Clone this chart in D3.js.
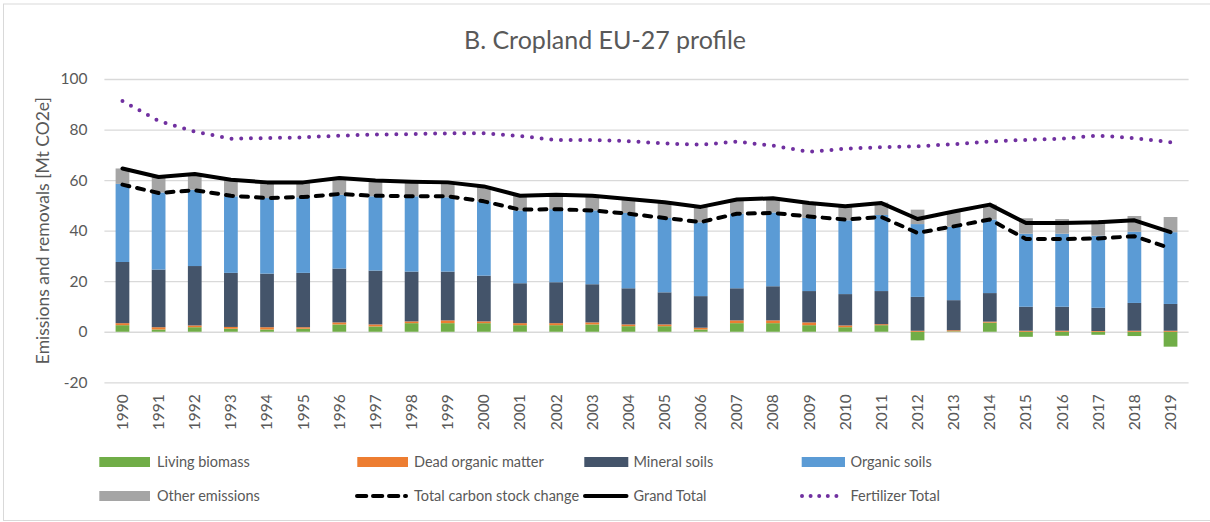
<!DOCTYPE html>
<html>
<head>
<meta charset="utf-8">
<script src="https://cdn.jsdelivr.net/npm/d3@7"></script>
<style>
  html, body { margin: 0; padding: 0; background: #fff; }
  svg { display: block; font-family: Lato, "Liberation Sans", sans-serif; }
</style>
</head>
<body>
<svg id="chart" width="1210" height="522"></svg>
<script>
// ---- data ----
const years = ["1990","1991","1992","1993","1994","1995","1996","1997","1998","1999",
               "2000","2001","2002","2003","2004","2005","2006","2007","2008","2009",
               "2010","2011","2012","2013","2014","2015","2016","2017","2018","2019"];
const livingBiomass = [2.6,0.9,1.8,1.2,0.9,1.2,2.9,2.1,3.4,3.4,
                       3.4,2.6,2.6,2.9,2.2,2.2,0.9,3.4,3.4,2.6,
                       1.8,2.6,-3.4,0.2,3.6,-2.0,-1.6,-1.2,-1.7,-5.9];
const deadOrganicMatter = [0.8,0.9,0.7,0.7,0.9,0.6,0.8,0.8,0.7,1.1,
                           0.7,0.8,0.8,0.8,0.7,0.7,0.7,1.1,1.1,1.1,
                           0.7,0.4,0.4,0.4,0.4,0.4,0.4,0.3,0.4,0.4];
const mineralSoils = [24.2,22.8,23.5,21.4,21.2,21.5,21.3,21.3,19.7,19.3,
                      18.1,15.8,16.2,15.1,14.3,12.7,12.5,12.7,13.5,12.4,
                      12.4,13.1,13.4,11.9,11.3,9.5,9.5,9.2,11.0,10.6];
const organicSoils = [30.9,30.5,30.2,30.3,29.9,29.9,29.2,29.4,29.8,29.4,
                      29.4,28.8,28.9,29.2,29.8,29.4,29.2,29.5,29.2,28.9,
                      29.2,30.1,28.8,29.0,29.1,28.9,28.9,28.5,28.2,28.4];
const otherEmissions = [6.1,6.1,6.2,6.5,6.2,5.9,6.6,6.2,5.7,5.9,
                        5.9,5.8,5.7,5.8,5.5,6.2,6.1,5.6,5.6,5.9,
                        5.6,4.9,5.7,6.0,5.9,6.1,5.8,6.1,6.2,6.0];
const totalCarbonStockChange = [58.2,54.9,56.0,53.8,52.9,53.3,54.5,53.8,53.6,53.6,
                                51.6,48.3,48.5,48.0,46.7,45.0,43.4,46.7,47.0,45.6,
                                44.4,45.4,39.1,41.7,44.4,36.7,36.7,36.9,37.8,33.0];
const grandTotal = [64.6,61.2,62.4,60.1,59.1,59.1,60.8,59.8,59.3,59.1,
                    57.5,53.8,54.2,53.8,52.5,51.2,49.4,52.3,52.8,50.9,
                    49.7,50.9,44.6,47.6,50.3,43.0,43.0,43.3,44.1,39.4];
const fertilizerTotal = [91.3,83.4,79.2,76.4,76.6,76.9,77.6,78.0,78.2,78.5,
                         78.5,77.4,75.9,75.9,75.4,74.5,74.0,75.2,73.6,71.2,
                         72.4,73.0,73.4,74.2,75.3,75.9,76.4,77.6,76.6,75.0];
const yTicks = [-20, 0, 20, 40, 60, 80, 100];

const title = "B. Cropland EU-27 profile";
const yTitle = "Emissions and removals [Mt CO2e]";

const barSeries = [
  {name: "Living biomass", values: livingBiomass, color: "#70ad47"},
  {name: "Dead organic matter", values: deadOrganicMatter, color: "#ed7d31"},
  {name: "Mineral soils", values: mineralSoils, color: "#44546a"},
  {name: "Organic soils", values: organicSoils, color: "#5b9bd5"},
  {name: "Other emissions", values: otherEmissions, color: "#a5a5a5"}
];
const lineSeries = [
  {name: "Total carbon stock change", values: totalCarbonStockChange, color: "#000", width: 4, dash: "7,8", cap: "round"},
  {name: "Grand Total", values: grandTotal, color: "#000", width: 4, dash: null, cap: "round"},
  {name: "Fertilizer Total", values: fertilizerTotal, color: "#7030a0", width: 4, dash: "0,9.7", cap: "round"}
];

// ---- layout ----
const svg = d3.select("#chart");
const plot = {left: 104.4, right: 1188.6, top: 79, bottom: 382.3};
const textColor = "#595959";

svg.append("rect").attr("x", 3.5).attr("y", 4).attr("width", 1215).attr("height", 516.5)
  .attr("fill", "#fff").attr("stroke", "#d9d9d9").attr("stroke-width", 1);

const x = d3.scaleBand().domain(years).range([plot.left, plot.right])
  .paddingInner(0.62).paddingOuter(0.31);
const y = d3.scaleLinear().domain([-20, 100]).range([plot.bottom, plot.top]);

// gridlines
const yAxis = d3.axisLeft(y).tickValues(yTicks).tickFormat(d => String(d))
  .tickSize(-(plot.right - plot.left)).tickPadding(17);
const gy = svg.append("g").attr("transform", `translate(${plot.left},0)`).call(yAxis);
gy.select(".domain").remove();
gy.selectAll(".tick line").attr("stroke", "#d9d9d9").attr("stroke-width", 1.3);
gy.selectAll(".tick text").attr("fill", textColor).attr("font-size", "15.5px")
  .attr("font-family", "Lato, 'Liberation Sans', sans-serif");

// stacked bars (positive above zero, negative below)
const n = years.length;
const posBase = new Array(n).fill(0), negBase = new Array(n).fill(0);
barSeries.forEach(s => {
  const rects = s.values.map((v, i) => {
    let y0, y1;
    if (v >= 0) { y0 = posBase[i]; y1 = y0 + v; posBase[i] = y1; }
    else { y0 = negBase[i]; y1 = y0 + v; negBase[i] = y1; }
    return {year: years[i], y0, y1};
  });
  svg.append("g").selectAll("rect").data(rects).join("rect")
    .attr("x", d => x(d.year))
    .attr("width", x.bandwidth())
    .attr("y", d => y(Math.max(d.y0, d.y1)))
    .attr("height", d => Math.abs(y(d.y0) - y(d.y1)))
    .attr("fill", s.color);
});

// lines
const cx = yr => x(yr) + x.bandwidth() / 2;
lineSeries.forEach(s => {
  const line = d3.line().x((d, i) => cx(years[i])).y(d => y(d)).curve(d3.curveLinear);
  svg.append("path").datum(s.values)
    .attr("d", line)
    .attr("fill", "none")
    .attr("stroke", s.color)
    .attr("stroke-width", s.width)
    .attr("stroke-linecap", s.cap)
    .attr("stroke-linejoin", "round")
    .attr("stroke-dasharray", s.dash);
});

// x axis labels
const xAxis = d3.axisBottom(x).tickSize(0).tickPadding(0);
const gx = svg.append("g").attr("transform", `translate(0,${plot.bottom})`).call(xAxis);
gx.select(".domain").remove();
gx.selectAll(".tick text")
  .attr("fill", textColor).attr("font-size", "15.5px")
  .attr("font-family", "Lato, 'Liberation Sans', sans-serif")
  .attr("text-anchor", "end")
  .attr("dy", "0.35em")
  .attr("transform", "translate(0,12) rotate(-90)")
  .attr("x", 0).attr("y", 0);

// title
svg.append("text").attr("x", 605).attr("y", 48.5).attr("text-anchor", "middle")
  .attr("fill", textColor).attr("font-size", "25px").text(title);

// y title
svg.append("text").attr("transform", `translate(49,${(plot.top + plot.bottom) / 2}) rotate(-90)`)
  .attr("text-anchor", "middle").attr("fill", textColor).attr("font-size", "17.5px").text(yTitle);

// legend
const legendItems = [
  {s: barSeries[0], type: "rect", x0: 99.3, x1: 150, tx: 157, cy: 462},
  {s: barSeries[1], type: "rect", x0: 357.3, x1: 408, tx: 414, cy: 462},
  {s: barSeries[2], type: "rect", x0: 584.3, x1: 628.3, tx: 633.5, cy: 462},
  {s: barSeries[3], type: "rect", x0: 801.7, x1: 845, tx: 850.5, cy: 462},
  {s: barSeries[4], type: "rect", x0: 99.3, x1: 150, tx: 157, cy: 496},
  {s: lineSeries[0], type: "line", x0: 357, x1: 406, tx: 414, cy: 496, dash: "9.3,6.7"},
  {s: lineSeries[1], type: "line", x0: 585, x1: 626.5, tx: 633.5, cy: 496, dash: null},
  {s: lineSeries[2], type: "line", x0: 802, x1: 845, tx: 850.5, cy: 496, dash: "0,8.6"}
];
const lg = svg.append("g");
legendItems.forEach(it => {
  if (it.type === "rect") {
    lg.append("rect").attr("x", it.x0).attr("y", it.cy - 5).attr("width", it.x1 - it.x0)
      .attr("height", 10).attr("fill", it.s.color);
  } else {
    lg.append("line").attr("x1", it.x0).attr("x2", it.x1).attr("y1", it.cy).attr("y2", it.cy)
      .attr("stroke", it.s.color).attr("stroke-width", it.s.width)
      .attr("stroke-linecap", "round").attr("stroke-dasharray", it.dash);
  }
  lg.append("text").attr("x", it.tx).attr("y", it.cy).attr("dy", "0.35em")
    .attr("fill", textColor).attr("font-size", "14.5px").text(it.s.name);
});
</script>
</body>
</html>
